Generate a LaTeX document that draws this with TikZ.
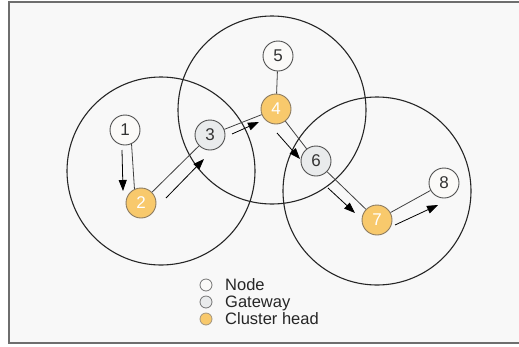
\documentclass[tikz,border=0pt]{standalone}
\usepackage{fontspec}
\setmainfont{Liberation Sans}
\usetikzlibrary{arrows.meta,calc}

\definecolor{panelbg}{HTML}{F8F8F8}
\definecolor{panelrule}{HTML}{6E6E6E}
\definecolor{headfill}{HTML}{F8C96C}
\definecolor{headrule}{HTML}{8A7A60}
\definecolor{gatefill}{HTML}{E9EBEC}
\definecolor{plainfill}{HTML}{FBFAF8}
\definecolor{noderule}{HTML}{505050}

\tikzset{
  radiorange/.style={draw=black!85, line width=1.1pt},
  plainnode/.style={circle, draw=noderule, line width=0.9pt, fill=plainfill,
    minimum size=30pt, inner sep=0pt, font=\fontsize{17}{17}\selectfont, text=black!80},
  gatenode/.style={plainnode, fill=gatefill},
  headnode/.style={plainnode, fill=headfill, draw=headrule, text=white},
  link/.style={draw=black!75, line width=0.8pt},
  flow/.style={draw=black, line width=0.8pt, -{Triangle[length=11pt,width=8pt]}},
  keydot/.style={circle, draw=black!55, line width=0.8pt, minimum size=12pt, inner sep=0pt},
  keytext/.style={anchor=base west, font=\fontsize{16.5}{17}\selectfont, text=black!85, inner sep=0pt},
}

\begin{document}
\begin{tikzpicture}[x=1pt,y=-1pt]
  \useasboundingbox (0,0) rectangle (519,346);
  \fill[white] (0,0) rectangle (519,346);
  \draw[panelrule, line width=2pt, fill=panelbg] (9,2) rectangle (524,343);

  % radio ranges of the three clusters
  \draw[radiorange] (161,171) circle[radius=94];
  \draw[radiorange] (272,110) circle[radius=94];
  \draw[radiorange] (377,191) circle[radius=94];

  % nodes
  \node[plainnode] (n1) at (125,130) {1};
  \node[headnode]  (n2) at (141,203) {2};
  \node[gatenode]  (n3) at (210,135) {3};
  \node[headnode]  (n4) at (276,109) {4};
  \node[plainnode] (n5) at (278,56)  {5};
  \node[gatenode]  (n6) at (316,161) {6};
  \node[headnode]  (n7) at (377,220) {7};
  \node[plainnode] (n8) at (444,183) {8};

  % links
  \draw[link] (n1.-65) -- (n2.115);
  \draw[link] (n2) -- (n3);
  \draw[link] (n3) -- (n4);
  \draw[link] (n4) -- (n5);
  \draw[link] (n4) -- (n6);
  \draw[link] (n6) -- (n7);
  \draw[link] (n7) -- (n8);

  % message flow along the links
  \draw[flow] ($(n1)+(-3,20)$) -- ($(n2)+(-18,-12)$);
  \draw[flow] ($(n2)+(25,-5)$) -- ($(n3)+(-6,24)$);
  \draw[flow] ($(n3)+(22,-1)$) -- ($(n4)+(-17,13)$);
  \draw[flow] ($(n4)+(1,24)$) -- ($(n6)+(-16,-2)$);
  \draw[flow] ($(n6)+(12,27)$) -- ($(n7)+(-22,-7)$);
  \draw[flow] ($(n7)+(18,5)$) -- ($(n8)+(-6,22)$);

  % key
  \node[keydot, fill=plainfill] (k1) at (206,285) {};
  \node[keydot, fill=gatefill]  (k2) at (206,302) {};
  \node[keydot, fill=headfill, draw=headrule!80] (k3) at (206,319) {};
  \node[keytext] (t1) at (225,290) {Node};
  \node[keytext] (t2) at (225,307) {Gateway};
  \node[keytext] (t3) at (225,324) {Cluster head};
\end{tikzpicture}
\end{document}
